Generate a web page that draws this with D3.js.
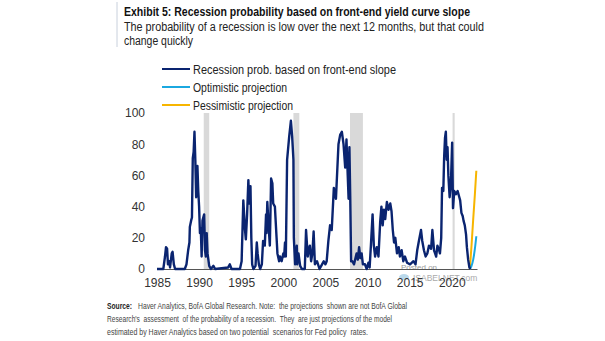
<!DOCTYPE html>
<html>
<head>
<meta charset="utf-8">
<script src="https://cdn.jsdelivr.net/npm/d3@7"></script>
<style>
  body { margin: 0; background: #fff; }
  text { font-family: "Liberation Sans", Arial, sans-serif; }
</style>
</head>
<body>
<div class="viz"></div>
<script>
var SVGwd = 605, SVGht = 341;

// decimal year / recession probability (%)
let dates = [1985.0, 1985.75, 1985.95, 1986.07, 1986.2, 1986.3, 1986.45, 1986.55, 1986.75, 1986.85, 1987.0, 1987.15,
  1988.3, 1988.5, 1988.7, 1988.85, 1988.9, 1989.05, 1989.15, 1989.25, 1989.35, 1989.45, 1989.55, 1989.65, 1989.7, 1989.8, 1989.9,
  1990.0, 1990.1, 1990.2, 1990.3, 1990.4, 1990.6, 1990.7, 1990.8, 1990.9, 1991.0, 1991.2, 1991.4, 1991.7, 1991.9,
  1993.45, 1993.65, 1993.85, 1994.85, 1995.05, 1995.25, 1995.45, 1995.55, 1995.7, 1995.85, 1995.95, 1996.1, 1996.2, 1996.3, 1996.45,
  1996.7, 1996.85, 1996.95, 1997.1, 1997.25, 1997.45, 1997.6, 1997.8, 1997.95, 1998.0, 1998.1, 1998.25, 1998.4, 1998.55, 1998.7, 1998.8,
  1999.0, 1999.2, 1999.3, 1999.5, 1999.6, 1999.8, 2000.0, 2000.1, 2000.2, 2000.3, 2000.45, 2000.7, 2000.9, 2001.05, 2001.2, 2001.25,
  2001.4, 2001.6, 2001.65, 2001.8, 2002.0, 2002.2, 2002.55, 2002.7, 2002.9, 2003.0, 2003.15, 2003.3, 2003.45, 2003.6, 2003.75, 2004.0, 2004.3,
  2004.6, 2004.8, 2005.0, 2005.15, 2005.35, 2005.55, 2005.75, 2006.0, 2006.25, 2006.55, 2006.75, 2006.95, 2007.15, 2007.35, 2007.5,
  2007.65, 2007.75, 2007.85, 2007.95, 2008.05, 2008.2, 2008.4, 2008.7, 2008.85, 2009.0, 2009.15, 2009.3, 2009.45, 2009.7, 2009.9,
  2010.1, 2010.25, 2010.4, 2010.6, 2010.75, 2010.9, 2011.1, 2011.3, 2011.5, 2011.65, 2011.8, 2011.95, 2012.1, 2012.3, 2012.5, 2012.7,
  2012.85, 2013.0, 2013.15, 2013.3, 2013.5, 2013.7, 2013.85, 2014.05, 2014.25, 2014.45, 2014.7, 2015.05, 2015.45, 2015.7, 2015.9,
  2016.1, 2016.35, 2016.5, 2016.7, 2016.9, 2017.1, 2017.3, 2017.55, 2017.7, 2017.9, 2018.15, 2018.3, 2018.5, 2018.6, 2018.75, 2018.85,
  2019.0, 2019.1, 2019.2, 2019.3, 2019.4, 2019.5, 2019.6, 2019.75, 2019.9, 2020.05, 2020.15, 2020.3, 2020.5, 2020.7, 2020.9, 2021.0,
  2021.15, 2021.3, 2021.4, 2021.55, 2021.7, 2021.8, 2021.95, 2022.1, 2022.2];
let recessionProb = [0, 0, 8, 14, 13, 3, 5, 1, 10, 11, 3, 0,
  0, 3, 12, 17, 27, 31, 33, 71, 75, 88, 70, 46, 60, 66, 50,
  40, 23, 26, 8, 31, 35, 12, 8, 23, 10, 2, 0, 2, 0,
  1, 3, 0, 0, 5, 44, 25, 19, 35, 57, 42, 53, 20, 3, 0,
  2, 17, 10, 3, 0, 3, 18, 15, 35, 23, 43, 28, 15, 58, 55, 42,
  40, 20, 10, 5, 8, 5, 10, 8, 17, 8, 70, 85, 95, 85, 70, 20,
  3, 15, 3, 10, 2, 0, 0, 25, 8, 12, 15, 5, 10, 24, 3, 5, 0,
  3, 5, 3, 5, 18, 28, 25, 52, 45, 80, 86, 88, 80, 65, 83,
  60, 45, 78, 45, 5, 5, 3, 10, 6, 14, 7, 10, 3, 3, 0,
  4, 1, 15, 35, 15, 8, 14, 8, 30, 40, 28, 38, 32, 43, 38, 42,
  37, 25, 17, 20, 10, 14, 8, 12, 5, 8, 4, 3, 5, 3, 12,
  18, 25, 18, 12, 8, 10, 15, 13, 25, 12, 8, 15, 12, 10, 20, 52,
  50, 72, 84, 88, 70, 78, 60, 46, 55, 81, 39, 50, 48, 50, 46, 44,
  36, 34, 31, 28, 22, 14, 6, 1, 0];

let projDates = [2022.15, 2022.35, 2022.55, 2022.75, 2022.92];
let optimistic = [0, 2, 6, 13, 21];
let pessimistic = [0, 15, 32, 48, 63];

// NBER recessions (start, end)
let recessions = [[1990.55, 1991.2], [2001.2, 2001.9], [2007.92, 2009.45], [2020.1, 2020.35]];

let xTicks = [1985, 1990, 1995, 2000, 2005, 2010, 2015, 2020];
let yTicks = [0, 20, 40, 60, 80, 100];

let legendLabels = ["Recession prob. based on front-end slope", "Optimistic projection", "Pessimistic projection"];
let legendColors = ["#0a2470", "#1ba8e0", "#f7b500"];

var canvas = d3.select(".viz")
    .append("svg")
    .attr("width", SVGwd)
    .attr("height", SVGht);

let x = d3.scaleLinear().domain([1985, 2023]).range([157, 477]);
let y = d3.scaleLinear().domain([0, 100]).range([269, 113]);

// header
canvas.append("line")
    .attr("x1", 117).attr("x2", 117).attr("y1", 2).attr("y2", 47)
    .attr("stroke", "#c8d0dc").attr("stroke-width", 1);

canvas.append("text")
    .attr("x", 124).attr("y", 16)
    .text("Exhibit 5: Recession probability based on front-end yield curve slope")
    .style("font-size", "12.5px").style("font-weight", "bold")
    .attr("fill", "#111")
    .attr("textLength", 346).attr("lengthAdjust", "spacingAndGlyphs");

let sub = ["The probability of a recession is low over the next 12 months, but that could", "change quickly"];
let subW = [360, 69];
sub.forEach(function (s, i) {
    canvas.append("text")
        .attr("x", 124).attr("y", 31 + i * 14)
        .text(s)
        .style("font-size", "12px")
        .attr("fill", "#222")
        .attr("textLength", subW[i]).attr("lengthAdjust", "spacingAndGlyphs");
});

// legend
let legW = [203, 94, 100];
legendLabels.forEach(function (lab, i) {
    let ly = 69 + i * 18;
    canvas.append("line")
        .attr("x1", 162).attr("x2", 190).attr("y1", ly).attr("y2", ly)
        .attr("stroke", legendColors[i]).attr("stroke-width", 2);
    canvas.append("text")
        .attr("x", 193).attr("y", ly + 4.5)
        .text(lab)
        .style("font-size", "12.5px")
        .attr("fill", "#222")
        .attr("textLength", legW[i]).attr("lengthAdjust", "spacingAndGlyphs");
});

// recession shading
canvas.append("g").selectAll("rect")
    .data(recessions)
    .join("rect")
    .attr("x", d => x(d[0]))
    .attr("width", d => x(d[1]) - x(d[0]))
    .attr("y", y(100))
    .attr("height", y(0) - y(100))
    .attr("fill", "#d9d9d9");

// watermark
canvas.append("ellipse")
    .attr("cx", 404).attr("cy", 277).attr("rx", 5).attr("ry", 3)
    .attr("fill", "#a9cfe6").attr("opacity", 0.8);
canvas.append("text")
    .attr("x", 401).attr("y", 270).text("Posted on")
    .style("font-size", "8px").attr("fill", "#999");
canvas.append("text")
    .attr("x", 413).attr("y", 281).text("ISABELNET.com")
    .style("font-size", "8.5px").attr("fill", "#aaa");

// axes
let xAxis = canvas.append("g")
    .attr("transform", `translate(0, ${y(0)})`)
    .call(d3.axisBottom(x).tickValues(xTicks).tickFormat(d3.format("d")).tickSize(0).tickPadding(9));
xAxis.select(".domain").attr("stroke", "#555");
xAxis.selectAll("text")
    .style("font-size", "12px")
    .style("font-family", '"Liberation Sans", Arial, sans-serif')
    .attr("fill", "#333");

let yAxis = canvas.append("g")
    .attr("transform", "translate(145, 0)")
    .call(d3.axisLeft(y).tickValues(yTicks).tickSize(0).tickPadding(0));
yAxis.select(".domain").remove();
yAxis.selectAll("text")
    .style("font-size", "12px")
    .style("font-family", '"Liberation Sans", Arial, sans-serif')
    .attr("fill", "#333");

// series
let line = d3.line()
    .x(d => x(d[0]))
    .y(d => y(d[1]));

canvas.append("path")
    .datum(d3.zip(projDates, pessimistic))
    .attr("fill", "none")
    .attr("stroke", legendColors[2])
    .attr("stroke-width", 2)
    .attr("d", line.curve(d3.curveMonotoneX));

canvas.append("path")
    .datum(d3.zip(projDates, optimistic))
    .attr("fill", "none")
    .attr("stroke", legendColors[1])
    .attr("stroke-width", 2)
    .attr("d", line.curve(d3.curveMonotoneX));

canvas.append("path")
    .datum(d3.zip(dates, recessionProb))
    .attr("fill", "none")
    .attr("stroke", legendColors[0])
    .attr("stroke-width", 2.4)
    .attr("stroke-linejoin", "round")
    .attr("d", line.curve(d3.curveLinear));

// footnote
canvas.append("text")
    .attr("x", 107).attr("y", 309).text("Source:")
    .style("font-size", "9.5px").style("font-weight", "bold").attr("fill", "#222")
    .attr("textLength", 25).attr("lengthAdjust", "spacingAndGlyphs");
let notes = ["Haver Analytics, BofA Global Research. Note:  the projections  shown are not BofA Global",
    "Research's  assessment  of the probability of a recession.  They  are just projections of the model",
    "estimated by Haver Analytics based on two potential  scenarios for Fed policy  rates."];
let noteX = [138, 107, 107];
let noteW = [269, 285, 261];
notes.forEach(function (n, i) {
    canvas.append("text")
        .attr("x", noteX[i]).attr("y", 309 + i * 13)
        .text(n)
        .style("font-size", "9.5px")
        .style("white-space", "pre")
        .attr("fill", "#444")
        .attr("textLength", noteW[i]).attr("lengthAdjust", "spacingAndGlyphs");
});
</script>
</body>
</html>
